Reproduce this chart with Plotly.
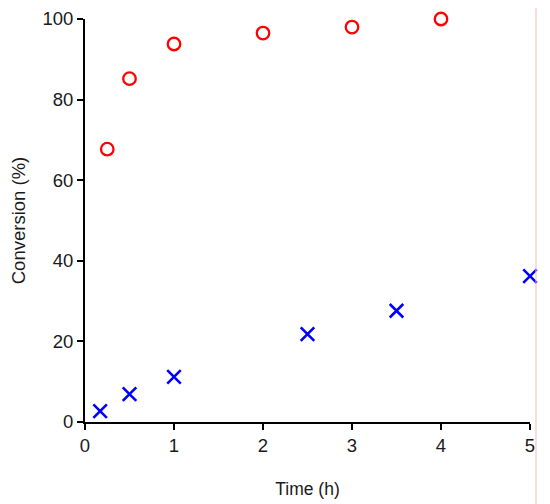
import plotly.graph_objects as go

time_a = [0.25, 0.5, 1, 2, 3, 4]
conv_a = [67.7, 85.2, 93.8, 96.5, 98.0, 100.0]
time_b = [0.17, 0.5, 1, 2.5, 3.5, 5]
conv_b = [2.7, 6.9, 11.2, 21.8, 27.6, 36.2]

fig = go.Figure()
fig.add_trace(go.Scatter(x=time_a, y=conv_a, mode="markers",
                         marker=dict(symbol="circle-open", size=12.5, color="#ff0000",
                                     line=dict(width=2.3, color="#ff0000")),
                         cliponaxis=False, showlegend=False))
fig.add_trace(go.Scatter(x=time_b, y=conv_b, mode="markers",
                         marker=dict(symbol="x-thin-open", size=13.5, color="#0000ff",
                                     line=dict(width=2.6, color="#0000ff")),
                         cliponaxis=False, showlegend=False))

font = dict(family="Liberation Sans, Arial, sans-serif", size=18, color="#1a1a1a")
fig.update_layout(
    width=550, height=504,
    margin=dict(l=77, r=28, t=11, b=90, autoexpand=False),
    paper_bgcolor="white", plot_bgcolor="white",
    font=font,
    xaxis=dict(range=[0, 5], tickvals=[0, 1, 2, 3, 4, 5], showgrid=False, zeroline=False,
               showline=True, linecolor="black", linewidth=2, ticks="outside",
               ticklen=6, tickwidth=2, tickcolor="black", automargin=False,
               tickfont=dict(size=18.5),
               title=dict(text="Time (h)", standoff=28, font=dict(size=17.5))),
    yaxis=dict(range=[0, 100], tickvals=[0, 20, 40, 60, 80, 100], showgrid=False, zeroline=False,
               showline=True, linecolor="black", linewidth=2, ticks="outside",
               ticklen=6, tickwidth=2, tickcolor="black", automargin=False,
               tickfont=dict(size=18.5),
               title=dict(text="Conversion (%)", standoff=12, font=dict(size=18.5))),
    shapes=[dict(type="line", xref="paper", yref="paper", x0=1.0135, x1=1.0135,
                 y0=1.027, y1=-0.25, line=dict(color="#f7b8bc", width=1))],
)
fig.write_html("out.html")
